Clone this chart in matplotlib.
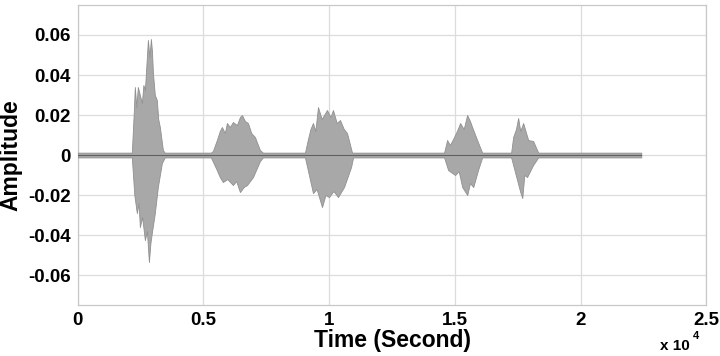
import numpy as np
import matplotlib
matplotlib.use('Agg')
import matplotlib.pyplot as plt

plt.rcParams['font.family'] = ['Liberation Sans', 'DejaVu Sans']
plt.rcParams['font.weight'] = 'bold'

# upper envelope of the waveform (sample index, amplitude)
t_up = [0, 2150, 2230, 2270, 2330, 2390, 2470, 2550, 2610, 2670, 2730, 2790, 2850, 2910, 2950,
        2990, 3065, 3145, 3200, 3265, 3385, 3460,
        5295, 5374, 5533, 5650, 5732, 5850, 5932, 6050, 6170, 6330, 6450, 6529, 6650, 6768, 6900,
        7046, 7245, 7365,
        9037, 9156, 9255, 9355, 9450, 9554, 9700, 9912, 10050, 10151, 10300, 10430, 10580, 10709,
        10908,
        14570, 14690, 14800, 14928, 15080, 15207, 15350, 15486, 15600, 15685, 15884, 16083,
        17237, 17317, 17430, 17516, 17600, 17715, 17914, 18113, 18312, 22412]
a_up = [0.0012, 0.0012, 0.022, 0.034, 0.024, 0.034, 0.030, 0.026, 0.035, 0.0325, 0.045, 0.0575,
        0.049, 0.058, 0.052, 0.041, 0.030, 0.0275, 0.018, 0.014, 0.0025, 0.0012,
        0.0012, 0.002, 0.0075, 0.012, 0.014, 0.011, 0.016, 0.014, 0.0165, 0.015, 0.019, 0.020,
        0.017, 0.016, 0.011, 0.009, 0.0025, 0.0012,
        0.0012, 0.008, 0.013, 0.016, 0.012, 0.024, 0.018, 0.0225, 0.019, 0.0225, 0.016, 0.0175,
        0.013, 0.011, 0.0012,
        0.0012, 0.0075, 0.005, 0.008, 0.012, 0.016, 0.013, 0.020, 0.017, 0.014, 0.0075, 0.0012,
        0.0012, 0.009, 0.013, 0.0185, 0.012, 0.016, 0.0075, 0.007, 0.0012, 0.0012]

# lower envelope
t_lo = [0, 2150, 2250, 2350, 2420, 2470, 2560, 2670, 2750, 2830, 2890, 2945, 3065, 3120, 3185,
        3345, 3460,
        5295, 5530, 5650, 5770, 5950, 6170, 6300, 6450, 6600, 6730, 6970, 7245, 7365,
        9037, 9355, 9500, 9715, 9850, 9990, 10170, 10350, 10590, 10870, 10950,
        14570, 14730, 15010, 15150, 15290, 15490, 15600, 15730, 15920, 16083,
        17237, 17400, 17600, 17680, 17760, 17870, 18110, 18312, 22412]
a_lo = [-0.0012, -0.0012, -0.020, -0.029, -0.024, -0.036, -0.031, -0.0425, -0.038, -0.0535,
        -0.044, -0.039, -0.029, -0.023, -0.016, -0.004, -0.0012,
        -0.0012, -0.0075, -0.011, -0.0135, -0.012, -0.015, -0.013, -0.0185, -0.016, -0.015,
        -0.011, -0.003, -0.0012,
        -0.0012, -0.019, -0.017, -0.026, -0.020, -0.021, -0.018, -0.021, -0.016, -0.006, -0.0012,
        -0.0012, -0.0075, -0.010, -0.008, -0.016, -0.020, -0.014, -0.016, -0.0075, -0.0012,
        -0.0012, -0.009, -0.0185, -0.0215, -0.010, -0.011, -0.005, -0.0012, -0.0012]

fig = plt.figure(figsize=(7.2, 3.56), dpi=100)
ax = fig.add_axes([0.108, 0.143, 0.873, 0.843])

ax.fill_between(t_up, a_up, 0, color='#a8a8a8', edgecolor='#909090', lw=0.6, zorder=3)
ax.fill_between(t_lo, a_lo, 0, color='#a8a8a8', edgecolor='#909090', lw=0.6, zorder=3)
ax.plot([0, 22412], [0, 0], color='#606060', lw=0.8, zorder=4)

ax.set_xlim(0, 25000)
ax.set_ylim(-0.075, 0.075)
ax.set_xticks([0, 5000, 10000, 15000, 20000, 25000])
ax.set_xticklabels(['0', '0.5', '1', '1.5', '2', '2.5'])
ax.set_yticks([-0.06, -0.04, -0.02, 0, 0.02, 0.04, 0.06])
ax.set_yticklabels(['-0.06', '-0.04', '-0.02', '0', '0.02', '0.04', '0.06'])
ax.tick_params(length=0, labelsize=13.5, pad=5)
for lab in ax.get_xticklabels() + ax.get_yticklabels():
    lab.set_fontweight('bold')

ax.grid(True, color='#dcdcdc', lw=0.9, zorder=0)
ax.set_axisbelow(True)
for s in ax.spines.values():
    s.set_color('#c8c8c8')
    s.set_linewidth(0.9)

ax.set_xlabel('Time (Second)', fontsize=16.5, fontweight='bold', labelpad=0)
ax.set_ylabel('Amplitude', fontsize=16.5, fontweight='bold', labelpad=4)

fig.text(0.916, 0.018, 'x 10', fontsize=11, fontweight='bold')
fig.text(0.962, 0.048, '4', fontsize=8, fontweight='bold')

fig.savefig('out.png', dpi=100)
